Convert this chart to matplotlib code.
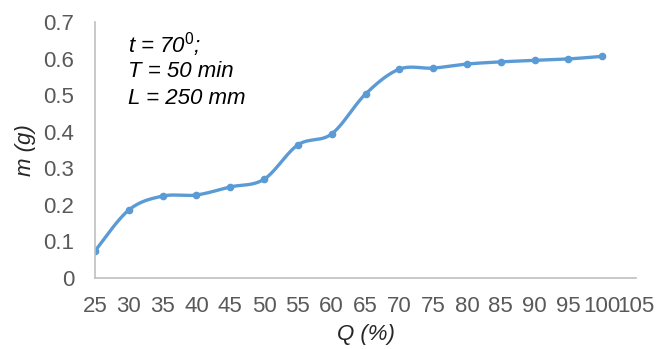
import numpy as np
import matplotlib
matplotlib.use('Agg')
import matplotlib.pyplot as plt

plt.rcParams['font.family'] = ['Liberation Sans', 'DejaVu Sans']
plt.rcParams['mathtext.fontset'] = 'custom'
plt.rcParams['mathtext.it'] = 'Liberation Sans:italic'
plt.rcParams['mathtext.rm'] = 'Liberation Sans'
plt.rcParams['mathtext.default'] = 'it'

q_pct = [25, 30, 35, 40, 45, 50, 55, 60, 65, 70, 75, 80, 85, 90, 95, 100]
mass_g = [0.074, 0.186, 0.224, 0.227, 0.249, 0.270, 0.364, 0.394, 0.503,
          0.571, 0.574, 0.585, 0.591, 0.595, 0.599, 0.606]
x_ticks = list(range(25, 106, 5))
y_ticks = [0, 0.1, 0.2, 0.3, 0.4, 0.5, 0.6, 0.7]
y_tick_labels = ['0', '0.1', '0.2', '0.3', '0.4', '0.5', '0.6', '0.7']

LINE_BLUE = '#5B9BD5'
TICK_GREY = '#595959'
AXIS_GREY = '#BFBFBF'
FS = 16


def smooth_curve(x, y, n=30):
    # spreadsheet-style smoothing: cubic Bezier segments with control points
    # taken from neighbouring points (Catmull-Rom, tension 1/6)
    x = np.asarray(x, float)
    y = np.asarray(y, float)
    px = np.concatenate([[x[0]], x, [x[-1]]])
    py = np.concatenate([[y[0]], y, [y[-1]]])
    xs, ys = [], []
    t = np.linspace(0, 1, n)
    for i in range(1, len(px) - 2):
        p0 = np.array([px[i], py[i]])
        p3 = np.array([px[i + 1], py[i + 1]])
        c1 = p0 + (p3 - np.array([px[i - 1], py[i - 1]])) / 6
        c2 = p3 - (np.array([px[i + 2], py[i + 2]]) - p0) / 6
        pts = ((1 - t) ** 3)[:, None] * p0 + (3 * (1 - t) ** 2 * t)[:, None] * c1 \
            + (3 * (1 - t) * t ** 2)[:, None] * c2 + (t ** 3)[:, None] * p3
        xs.extend(pts[:, 0])
        ys.extend(pts[:, 1])
    return np.array(xs), np.array(ys)


fig = plt.figure(figsize=(6.58, 3.49), dpi=100)
ax = fig.add_axes([95 / 658, 1 - 278 / 349, (636 - 95) / 658, (278 - 22) / 349])

sx, sy = smooth_curve(q_pct, mass_g)
ax.plot(sx, sy, color=LINE_BLUE, linewidth=2.4, solid_capstyle='round')
ax.plot(q_pct, mass_g, 'o', color=LINE_BLUE, markersize=4.5)

ax.set_xlim(25, 105)
ax.set_ylim(0, 0.7)
ax.set_xticks(x_ticks)
ax.set_yticks(y_ticks)
ax.set_yticklabels(y_tick_labels)
ax.tick_params(length=0, labelsize=FS, labelcolor=TICK_GREY)
ax.tick_params(axis='y', pad=15)
ax.tick_params(axis='x', pad=13)

for side in ['top', 'right']:
    ax.spines[side].set_visible(False)
for side in ['left', 'bottom']:
    ax.spines[side].set_color(AXIS_GREY)
    ax.spines[side].set_linewidth(1.2)

ax.set_xlabel('Q (%)', fontsize=FS, style='italic', color='#262626', labelpad=5)
ax.set_ylabel('m (g)', fontsize=FS, style='italic', color='#262626', labelpad=5)

ax.text(0.061, 0.912, 't = 70$^0$;', transform=ax.transAxes, fontsize=FS,
        style='italic', color='black', va='center')
ax.text(0.061, 0.805, 'T = 50 min', transform=ax.transAxes, fontsize=FS,
        style='italic', color='black', va='center')
ax.text(0.061, 0.70, 'L = 250 mm', transform=ax.transAxes, fontsize=FS,
        style='italic', color='black', va='center')

fig.savefig('out.png', dpi=100)
